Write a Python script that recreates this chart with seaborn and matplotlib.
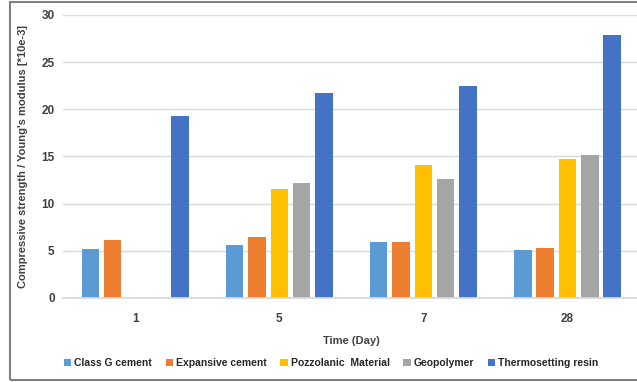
import seaborn as sns
import matplotlib.pyplot as plt
import pandas as pd
from matplotlib.patches import Rectangle

days = ['1', '5', '7', '28']
materials = ['Class G cement', 'Expansive cement', 'Pozzolanic  Material',
             'Geopolymer', 'Thermosetting resin']
class_g = [5.2, 5.65, 5.9, 5.1]
expansive = [6.1, 6.5, 5.9, 5.3]
pozzolanic = [0, 11.5, 14.05, 14.7]
geopolymer = [0, 12.2, 12.65, 15.15]
thermoset = [19.3, 21.7, 22.45, 27.9]
colors = ['#5B9BD5', '#ED7D31', '#FFC000', '#A5A5A5', '#4472C4']

rows = []
for name, vals in zip(materials, [class_g, expansive, pozzolanic, geopolymer, thermoset]):
    for d, v in zip(days, vals):
        rows.append({'day': d, 'material': name, 'value': v})
df = pd.DataFrame(rows)

sns.set_theme(style='white')
plt.rcParams['font.family'] = ['Liberation Sans', 'DejaVu Sans']

fig = plt.figure(figsize=(6.37, 3.82), dpi=100)
ax = fig.add_axes([0.099, 0.220, 0.905, 0.741])

sns.barplot(data=df, x='day', y='value', hue='material', order=days,
            hue_order=materials, palette=colors, saturation=1, width=0.775,
            gap=0.22, linewidth=0, ax=ax)

ax.set_ylim(0, 30)
ax.set_yticks([0, 5, 10, 15, 20, 25, 30])
ax.yaxis.grid(True, color='#D9D9D9', linewidth=1)
ax.set_axisbelow(True)
for s in ['top', 'right', 'left']:
    ax.spines[s].set_visible(False)
ax.spines['bottom'].set_color('#D9D9D9')
ax.tick_params(axis='both', length=0, labelsize=8.5, labelcolor='#404040', pad=6)
ax.tick_params(axis='x', pad=11)
for lab in ax.get_xticklabels() + ax.get_yticklabels():
    lab.set_fontweight('bold')

ax.set_xlabel('Time (Day)', fontsize=8, fontweight='bold', color='#404040', labelpad=8)
ax.set_ylabel("Compressive strength / Young's modulus [*10e-3]", fontsize=8,
              fontweight='bold', color='#404040', labelpad=10)

handles, labels = ax.get_legend_handles_labels()
ax.legend_.remove()
fig.legend(handles, labels, loc='center', bbox_to_anchor=(0.52, 0.05), ncol=5,
           frameon=False, prop={'weight': 'bold', 'size': 7.5},
           handlelength=0.7, handleheight=0.7, handletextpad=0.3, columnspacing=1.3)

fig.patches.append(Rectangle((0.016, 0.005), 1.2, 0.99, transform=fig.transFigure,
                             fill=False, edgecolor='#7F7F7F', linewidth=1.5))

fig.savefig('out.png', dpi=100)
